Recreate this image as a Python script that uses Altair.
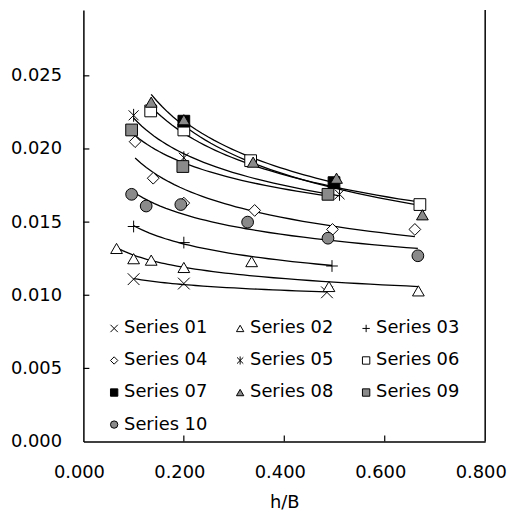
import altair as alt
import pandas as pd

series_names = ["Series 01", "Series 02", "Series 03", "Series 04", "Series 05",
                "Series 06", "Series 07", "Series 08", "Series 09", "Series 10"]

s01_x = [0.100, 0.200, 0.485]
s01_y = [0.0111, 0.0108, 0.0102]
s02_x = [0.066, 0.100, 0.135, 0.200, 0.335, 0.489, 0.667]
s02_y = [0.0132, 0.0125, 0.0124, 0.0119, 0.0123, 0.0106, 0.0103]
s03_x = [0.100, 0.200, 0.495]
s03_y = [0.0147, 0.0136, 0.0120]
s04_x = [0.103, 0.139, 0.200, 0.341, 0.496, 0.660]
s04_y = [0.0205, 0.0180, 0.0163, 0.0158, 0.0145, 0.0145]
s05_x = [0.100, 0.200, 0.510]
s05_y = [0.0223, 0.0194, 0.0169]
s06_x = [0.134, 0.200, 0.333, 0.670]
s06_y = [0.0226, 0.0213, 0.0192, 0.0162]
s07_x = [0.200, 0.499]
s07_y = [0.0219, 0.0177]
s08_x = [0.135, 0.200, 0.338, 0.504, 0.675]
s08_y = [0.0232, 0.0220, 0.0191, 0.0180, 0.0155]
s09_x = [0.096, 0.198, 0.487]
s09_y = [0.0213, 0.0188, 0.0169]
s10_x = [0.096, 0.125, 0.194, 0.327, 0.487, 0.666]
s10_y = [0.0169, 0.0161, 0.0162, 0.0150, 0.0139, 0.0127]

x_tick_labels = [0.0, 0.2, 0.4, 0.6, 0.8]
y_tick_labels = [0.0, 0.005, 0.010, 0.015, 0.020, 0.025]
x_inner_ticks = [0.2, 0.4, 0.6]
y_inner_ticks = [0.005, 0.010, 0.015, 0.020, 0.025]

all_x = [s01_x, s02_x, s03_x, s04_x, s05_x, s06_x, s07_x, s08_x, s09_x, s10_x]
all_y = [s01_y, s02_y, s03_y, s04_y, s05_y, s06_y, s07_y, s08_y, s09_y, s10_y]

rows = []
for name, xs, ys in zip(series_names, all_x, all_y):
    for xv, yv in zip(xs, ys):
        rows.append({"series": name, "x": xv, "y": yv})
df = pd.DataFrame(rows)

GRAY = "#8a8a8a"
X_PATH = "M-1,-1L1,1M-1,1L1,-1"
PLUS_PATH = "M-1,0L1,0M0,-1L0,1"
AST_PATH = "M-0.85,-0.85L0.85,0.85M-0.85,0.85L0.85,-0.85M0,-1.1L0,1.1"

shapes = [X_PATH, "triangle-up", PLUS_PATH, "diamond", AST_PATH,
          "square", "square", "triangle-up", "square", "circle"]
fills = ["transparent", "white", "transparent", "white", "transparent",
         "white", "black", GRAY, GRAY, GRAY]
strokes = ["black"] * 10

FONT = "DejaVu Sans"
W, H = 405, 435

x_scale = alt.Scale(domain=[0, 0.8], nice=False, zero=False)
y_scale = alt.Scale(domain=[0, 0.0295], nice=False, zero=False)

x_axis = alt.Axis(values=x_tick_labels, labels=False, ticks=False, tickSize=0, grid=False,
                  title="h/B", titlePadding=52, titleFontWeight="normal",
                  titleFont=FONT, titleFontSize=18, titleColor="black",
                  domainColor="black", domainWidth=1.5)
y_axis = alt.Axis(values=y_tick_labels, format=".3f", ticks=False, tickSize=0, grid=False,
                  labelPadding=22, labelFlush=False, labelOverlap=False, title=None,
                  labelFont=FONT, labelFontSize=18, labelColor="black",
                  domainColor="black", domainWidth=1.5)

X = alt.X("x:Q", scale=x_scale, axis=x_axis)
Y = alt.Y("y:Q", scale=y_scale, axis=y_axis)

lines = alt.Chart(df).transform_regression(
    "x", "y", method="pow", groupby=["series"]
).mark_line(color="black", strokeWidth=1.3).encode(
    x=X, y=Y, detail="series:N"
)

legend = alt.Legend(title=None, orient="none", direction="horizontal",
                    legendX=22, legendY=312, columns=3,
                    columnPadding=24, rowPadding=14.3, symbolSize=55, symbolStrokeWidth=1,
                    labelFont=FONT, labelFontSize=18, labelColor="black", labelOffset=1)

points = alt.Chart(df).mark_point(filled=True, size=140, strokeWidth=1, opacity=1).encode(
    x=X, y=Y,
    shape=alt.Shape("series:N", scale=alt.Scale(domain=series_names, range=shapes), legend=legend),
    fill=alt.Fill("series:N", scale=alt.Scale(domain=series_names, range=fills), legend=legend),
    stroke=alt.Stroke("series:N", scale=alt.Scale(domain=series_names, range=strokes), legend=legend),
    order=alt.Order("series:N"),
)

x_labels = alt.Chart(pd.DataFrame({"x": x_tick_labels})).mark_text(
    dx=-4, baseline="top", align="center", font=FONT, fontSize=18, color="black"
).encode(x=X, y=alt.value(H + 23), text=alt.Text("x:Q", format=".3f"))

xt = alt.Chart(pd.DataFrame({"x": x_inner_ticks})).mark_rule(color="black", strokeWidth=1.2).encode(
    x=X, y=alt.value(H), y2=alt.value(H - 6)
)
yt = alt.Chart(pd.DataFrame({"y": y_inner_ticks})).mark_rule(color="black", strokeWidth=1.2).encode(
    y=Y, x=alt.value(0), x2=alt.value(6)
)
right_border = alt.Chart(pd.DataFrame({"a": [0]})).mark_rule(color="black", strokeWidth=1.5).encode(
    x=alt.value(W), y=alt.value(0), y2=alt.value(H)
)

chart = alt.layer(xt, yt, lines, points, x_labels, right_border).properties(
    width=W, height=H,
    autosize=alt.AutoSizeParams(type="none"),
    padding={"left": 76, "top": 0, "right": 22, "bottom": 68},
).configure_view(stroke=None)

chart.save("out.html", embed_options={"renderer": "svg", "actions": False})
